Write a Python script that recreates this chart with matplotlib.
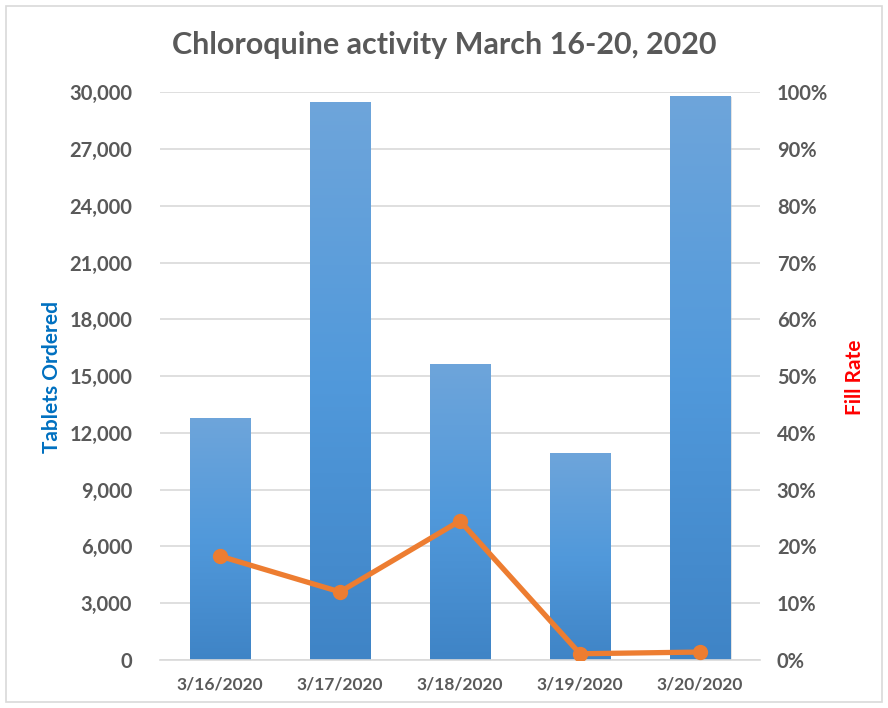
import matplotlib
matplotlib.use('Agg')
import matplotlib.pyplot as plt
import numpy as np
from matplotlib.patches import Rectangle
from matplotlib.ticker import FuncFormatter, MultipleLocator

dates = ['3/16/2020', '3/17/2020', '3/18/2020', '3/19/2020', '3/20/2020']
tablets_ordered = [12800, 29500, 15650, 10950, 29800]
fill_rate = [0.183, 0.120, 0.245, 0.011, 0.014]

grey_text = '#595959'
font = 'Lato'

fig = plt.figure(figsize=(8.88, 7.08), dpi=100)
ax = fig.add_axes([0.180, 0.0678, 0.676, 0.802])
ax2 = ax.twinx()

x = np.arange(len(dates))
bars = ax.bar(x, tablets_ordered, width=0.5, color='#4F94D6', zorder=2)

# vertical gradient, lighter at top
grad = np.linspace(0, 1, 256).reshape(-1, 1)
cmap = matplotlib.colors.LinearSegmentedColormap.from_list(
    'bar', ['#3F84C6', '#5199DB', '#6EA5DA'])
for b in bars:
    bx, bw, bh = b.get_x(), b.get_width(), b.get_height()
    ax.add_patch(Rectangle((bx + 0.012, 0), bw, bh - 80, color='#c8c8c8',
                           alpha=0.5, zorder=1.5, lw=0))
    im = ax.imshow(grad, cmap=cmap, aspect='auto', origin='lower',
                   extent=(bx, bx + bw, 0, bh), zorder=2.1)
    im.set_clip_path(b)

ax.set_xlim(-0.5, 4.5)
ax.set_ylim(0, 30000)
ax.yaxis.set_major_locator(MultipleLocator(3000))
ax.yaxis.set_major_formatter(FuncFormatter(lambda v, p: f'{int(v):,}'))
ax.grid(axis='y', color='#D9D9D9', lw=1.2, zorder=0)
ax.set_axisbelow(True)
for s in ['top', 'right', 'left']:
    ax.spines[s].set_visible(False)
ax.spines['bottom'].set_color('#D9D9D9')
ax.spines['bottom'].set_linewidth(1.2)
ax.tick_params(axis='y', length=0, pad=20, labelsize=14.5, labelcolor=grey_text)
ax.tick_params(axis='x', length=0, pad=12, labelsize=12.5, labelcolor=grey_text)
ax.set_xticks(x)
ax.set_xticklabels(dates)
for lab in ax.get_xticklabels() + ax.get_yticklabels():
    lab.set_fontweight('bold')
    lab.set_family(font)

ax2.plot(x, fill_rate, color='#ED7D31', lw=3.8, marker='o', ms=10,
         solid_capstyle='round', zorder=5)
ax2.set_ylim(0, 1)
ax2.yaxis.set_major_locator(MultipleLocator(0.1))
ax2.yaxis.set_major_formatter(FuncFormatter(lambda v, p: f'{v * 100:.0f}%'))
for s in ax2.spines.values():
    s.set_visible(False)
ax2.tick_params(axis='y', length=0, pad=12, labelsize=14.5, labelcolor=grey_text)
for lab in ax2.get_yticklabels():
    lab.set_fontweight('bold')
    lab.set_family(font)

fig.text(0.059, 0.467, 'Tablets Ordered', rotation=90, color='#0070C0',
         fontsize=15, fontweight='bold', family=font, ha='center', va='center')
fig.text(0.963, 0.467, 'Fill Rate', rotation=90, color='#FF0000',
         fontsize=15, fontweight='bold', family=font, ha='center', va='center')
fig.text(0.5, 0.936, 'Chloroquine activity March 16-20, 2020', color=grey_text,
         fontsize=22, fontweight='bold', family=font, ha='center', va='center')

fig.patches.append(Rectangle((0.007, 0.008), 0.986, 0.983, transform=fig.transFigure,
                             fill=False, edgecolor='#D9D9D9', lw=1.2))

fig.savefig('out.png', dpi=100)
